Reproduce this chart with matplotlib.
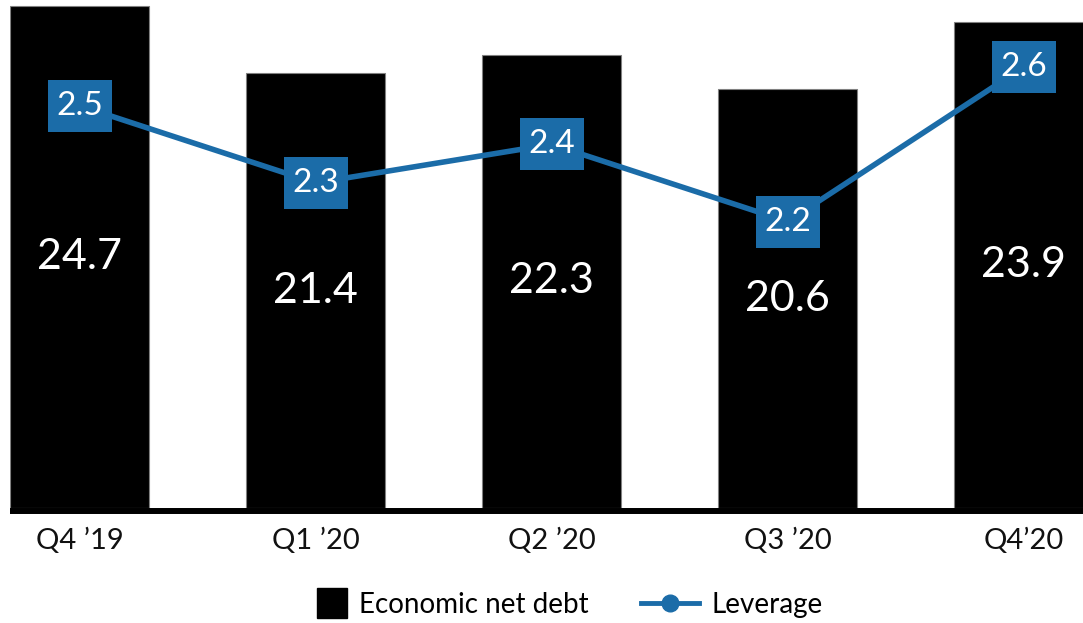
import matplotlib
matplotlib.use("Agg")
import matplotlib.pyplot as plt
from matplotlib.lines import Line2D
from matplotlib.path import Path

# quarterly figures
quarters = ["Q4 \u201919", "Q1 \u201920", "Q2 \u201920", "Q3 \u201920", "Q4\u201920"]
net_debt = [24.7, 21.4, 22.3, 20.6, 23.9]
leverage = [2.5, 2.3, 2.4, 2.2, 2.6]

blue = "#1b6ca8"
plt.rcParams['font.family'] = ['Lato', 'DejaVu Sans']

fig = plt.figure(figsize=(10.83, 6.23), dpi=100)
ax = fig.add_axes([10 / 1083, (623 - 511) / 623, 1073 / 1083, 511 / 623])

x = list(range(len(quarters)))
ax.bar(x, net_debt, width=0.59, color="black", edgecolor="#808080", linewidth=0.8, zorder=2)
for xi, v in zip(x, net_debt):
    ax.text(xi, v / 2, f"{v:.1f}", color="white", ha="center", va="center",
            fontsize=31, zorder=3)

ax.set_xlim(-0.295, 4.252)
ax.set_ylim(-0.15, 25)
ax.set_yticks([])
for s in ["top", "right", "left"]:
    ax.spines[s].set_visible(False)
ax.spines["bottom"].set_linewidth(4.3)
ax.spines["bottom"].set_color("black")
ax.spines["bottom"].set_capstyle("butt")
ax.spines["bottom"].set_position(("data", -0.15))

# leverage on a secondary scale, values shown in wide boxes
box = Path([(-32, -26), (32, -26), (32, 26), (-32, 26), (-32, -26)],
           [Path.MOVETO, Path.LINETO, Path.LINETO, Path.LINETO, Path.CLOSEPOLY])
ax2 = ax.twinx()
ax2.set_ylim(1.45, 2.774)
ax2.plot(x, leverage, color=blue, linewidth=4, zorder=4, solid_capstyle="butt")
ax2.plot(x, leverage, linestyle="none", marker=box, markersize=46,
         markerfacecolor=blue, markeredgewidth=0, zorder=5)
for xi, v in zip(x, leverage):
    ax2.text(xi, v, f"{v:.1f}", color="white", ha="center", va="center",
             fontsize=24, zorder=6)
ax2.set_yticks([])
for s in ax2.spines.values():
    s.set_visible(False)

ax.set_xticks(x)
ax.set_xticklabels(quarters)
ax.tick_params(axis="x", length=0, pad=12, labelsize=21, labelcolor="#111111")

debt_handle = Line2D([0], [0], color="black", linestyle="none", marker="s", markersize=22,
                     label="Economic net debt")
lev_handle = Line2D([0], [0], color=blue, linewidth=3.5, marker="o", markersize=12,
                    label="Leverage")
fig.legend(handles=[debt_handle], loc="center", bbox_to_anchor=(0.418, 0.029),
           frameon=False, fontsize=20, handlelength=1.1, handletextpad=0.4)
fig.legend(handles=[lev_handle], loc="center", bbox_to_anchor=(0.676, 0.029),
           frameon=False, fontsize=20, handlelength=2.1, handletextpad=0.45)

fig.savefig("out.png", dpi=100)
